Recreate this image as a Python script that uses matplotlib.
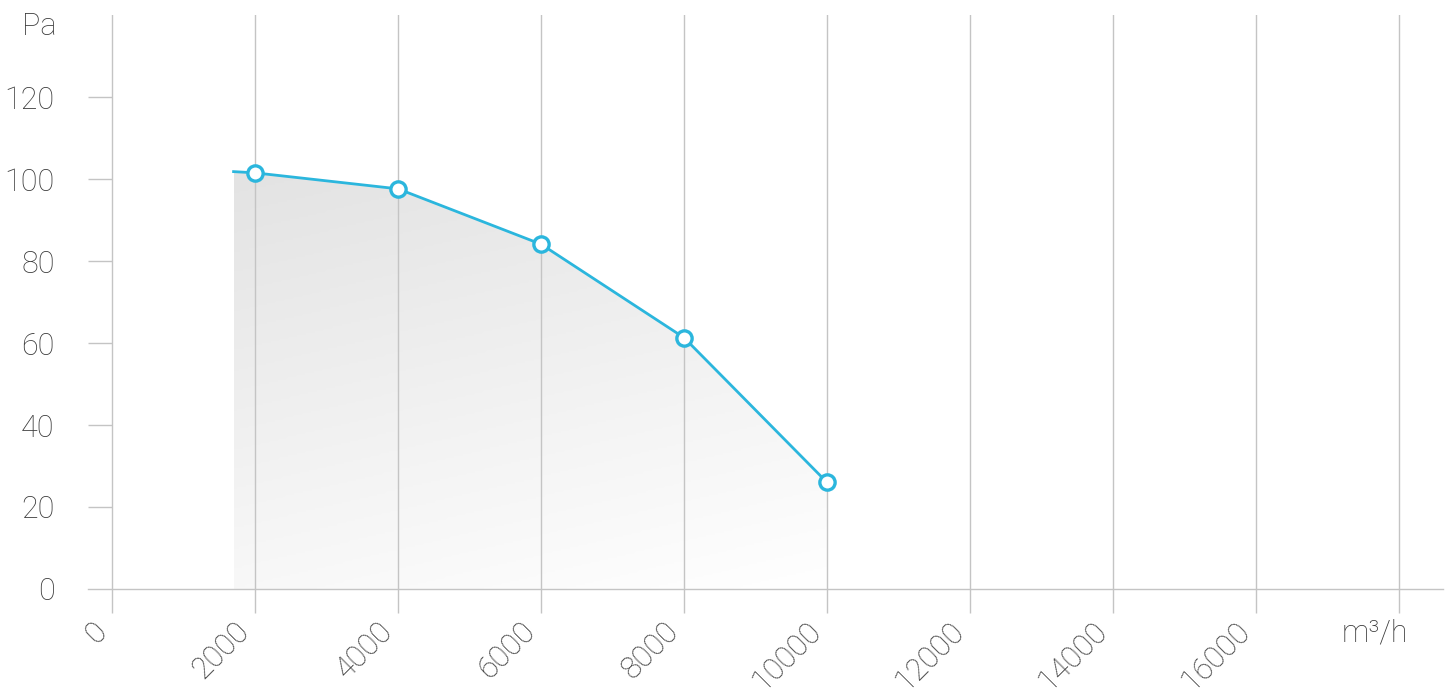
import numpy as np
import matplotlib
matplotlib.use("Agg")
import matplotlib.pyplot as plt
from matplotlib.colors import LinearSegmentedColormap

plt.rcParams['font.family'] = ['Roboto', 'DejaVu Sans']

# curve data (flow m3/h vs pressure Pa)
flow = [1700, 2000, 4000, 6000, 8000, 10000]
pressure = [101.8, 101.5, 97.6, 84.1, 61.3, 26.0]
marked = [1, 2, 3, 4, 5]

x_ticks = [0, 2000, 4000, 6000, 8000, 10000, 12000, 14000, 16000, 18000]
x_labels = ['0', '2000', '4000', '6000', '8000', '10000', '12000', '14000', '16000', '']
y_ticks = [0, 20, 40, 60, 80, 100, 120]

line_col = '#2bb6dd'
grid_col = '#c4c4c4'
text_col = '#3a3a3a'

W, H = 1447, 695
fig = plt.figure(figsize=(W / 100, H / 100), dpi=100)
ax = fig.add_axes([88 / W, (H - 589) / H, (1443 - 88) / W, (589 - 15) / H])

ax.set_xlim(-336, 18615)
ax.set_ylim(0, 140)

# gradient fill under the curve
fill = ax.fill_between(flow, pressure, 0, color='none', lw=0)
gx = np.linspace(0, 1, 200)
gy = np.linspace(0, 1, 200)
GX, GY = np.meshgrid(gx, gy)
grad = 0.75 * GY + 0.25 * (1 - GX)
cmap = LinearSegmentedColormap.from_list('g', ['#ffffff', '#e3e3e3'])
img = ax.imshow(grad, cmap=cmap, vmin=0, vmax=1, origin='lower', aspect='auto',
                extent=[flow[0], flow[-1], 0, max(pressure)], zorder=1)
img.set_clip_path(fill.get_paths()[0], transform=ax.transData)

ax.plot(flow, pressure, color=line_col, lw=2.0, zorder=3)
ax.plot([flow[i] for i in marked], [pressure[i] for i in marked], 'o',
        color=line_col, mfc='white', mec=line_col, ms=11, mew=2.4, zorder=4)

# vertical grid lines & ticks
ax.set_xticks(x_ticks)
ax.set_xticklabels(x_labels, rotation=45, ha='right', fontsize=22,
                   color=text_col, fontweight='light')
ax.tick_params(axis='x', length=17, width=1, color=grid_col, pad=3)
ax.grid(axis='x', color=grid_col, lw=1, zorder=0)

# short y ticks left of zero line
ax.set_yticks(y_ticks)
ax.set_yticklabels([str(v) for v in y_ticks], fontsize=22, color=text_col,
                   fontweight='light')
ax.tick_params(axis='y', length=0, pad=24)
ax.hlines(y_ticks[1:], -336, 0, color=grid_col, lw=1, zorder=0)

for s in ['top', 'right', 'left']:
    ax.spines[s].set_visible(False)
ax.spines['bottom'].set_color(grid_col)
ax.spines['bottom'].set_linewidth(1)

fig.text(1408 / W, 1 - 618 / H, 'm³/h', ha='right', va='top', fontsize=22,
         color=text_col, fontweight='light')
fig.text(56 / W, 1 - 12 / H, 'Pa', ha='right', va='top', fontsize=22,
         color=text_col, fontweight='light')

fig.savefig('out.png', dpi=100, facecolor='white')
